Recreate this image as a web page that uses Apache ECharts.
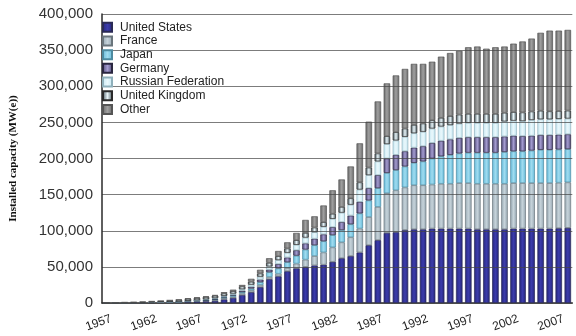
<!DOCTYPE html>
<html>
<head>
<meta charset="utf-8">
<script src="https://cdn.jsdelivr.net/npm/echarts@6/dist/echarts.min.js"></script>
<style>
  html, body { margin: 0; padding: 0; background: #fff; }
  #chart { width: 576px; height: 336px; }
</style>
</head>
<body>
<div id="chart"></div>
<script>
// Installed nuclear capacity by country, MW(e), 1957-2008
const years = [];
for (let y = 1957; y <= 2008; y++) years.push(String(y));

const unitedStates = [60, 60, 150, 300, 400, 600, 800, 900, 1000, 1500,
  2000, 2500, 3000, 5000, 7000, 11000, 15000, 22000, 33000, 37000,
  44000, 48000, 50000, 52000, 53000, 57000, 62000, 65000, 70000, 80000,
  87000, 97000, 98000, 101000, 102000, 102000, 103000, 103000, 103000, 103000,
  103000, 102000, 102000, 102000, 102000, 103000, 103000, 103000, 103000, 103000,
  103500, 104000];
const france = [0, 0, 40, 40, 40, 200, 200, 400, 500, 700,
  1000, 1200, 1500, 1700, 1700, 2300, 2700, 3000, 3000, 3500,
  4500, 6500, 10000, 13000, 17000, 20000, 22000, 26000, 33000, 39000,
  46000, 55000, 58000, 59000, 61000, 61000, 61000, 62000, 62000, 63000,
  63000, 63000, 63000, 63000, 63000, 63000, 63000, 63000, 63000, 63000,
  63000, 63000];
const japan = [0, 0, 0, 0, 0, 0, 10, 10, 10, 170,
  170, 170, 500, 1300, 1800, 1800, 2300, 3900, 6600, 7400,
  8000, 11000, 14000, 15000, 15500, 17000, 17000, 18000, 21000, 23000,
  26000, 28000, 28000, 29000, 31000, 33000, 36000, 38000, 40000, 41000,
  42000, 43000, 43000, 43000, 44000, 44000, 44000, 45000, 46000, 46000,
  46000, 46000];
const germany = [0, 0, 0, 0, 15, 15, 15, 15, 15, 300,
  300, 600, 900, 1000, 1000, 2000, 2300, 3500, 3500, 6000,
  6500, 7500, 8500, 9000, 9500, 11000, 11000, 12000, 16000, 17000,
  18000, 20000, 21000, 21000, 21000, 21000, 21500, 21500, 21500, 21500,
  21500, 21500, 21500, 21500, 21500, 21500, 21000, 20500, 20500, 20500,
  20500, 20500];
const russia = [0, 0, 5, 5, 5, 5, 100, 300, 300, 300,
  500, 700, 900, 1000, 1500, 2000, 3000, 4000, 4500, 5500,
  6500, 7500, 8000, 9000, 10500, 11500, 13000, 15000, 17000, 18000,
  19000, 20000, 20000, 20000, 20000, 20000, 20000, 19800, 19800, 19800,
  19800, 19800, 19800, 19800, 20800, 20800, 20800, 21800, 21800, 21800,
  21800, 21800];
const unitedKingdom = [200, 300, 500, 550, 800, 1100, 1500, 1900, 2500, 2800,
  3000, 3200, 3300, 3400, 3500, 4000, 4200, 4500, 5000, 5500,
  6000, 6500, 6500, 6500, 6500, 7000, 8000, 9000, 10000, 10500,
  11000, 11000, 11500, 11500, 11500, 11500, 11500, 12000, 12500, 12500,
  12500, 12500, 12500, 12500, 12000, 12000, 12000, 11800, 11800, 11000,
  11000, 11000];
const other = [40, 240, 305, 405, 540, 580, 375, 275, 475, 730,
  830, 830, 900, 1600, 2000, 1900, 4000, 5100, 6400, 7100,
  8500, 10000, 18000, 15500, 23000, 32500, 38000, 44000, 54000, 63500,
  72000, 73000, 78500, 82500, 84500, 82500, 81000, 84700, 87200, 88200,
  92200, 93200, 90200, 92200, 91700, 94700, 98200, 100900, 107900, 111700,
  111200, 111700];

const yTicks = [0, 50000, 100000, 150000, 200000, 250000, 300000, 350000, 400000];

// horizontal shading gives each bar a rounded, cylinder-like look
function shade(edge, mid) {
  return {
    type: 'linear', x: 0, y: 0, x2: 1, y2: 0,
    colorStops: [
      { offset: 0, color: edge },
      { offset: 0.5, color: mid },
      { offset: 1, color: edge }
    ]
  };
}

const layers = [
  { name: 'United States', data: unitedStates, fill: shade('#25257a', '#3c3cac'), border: '#2a2a55' },
  { name: 'France', data: france, fill: shade('#95a5b0', '#c6d3da'), border: '#6a757c' },
  { name: 'Japan', data: japan, fill: shade('#62b8d8', '#a0dcf0'), border: '#4d8aa0' },
  { name: 'Germany', data: germany, fill: shade('#4a4470', '#a49cd0'), border: '#2a2640' },
  { name: 'Russian Federation', data: russia, fill: shade('#c4e6f1', '#eaf8fc'), border: '#8fb0bb' },
  { name: 'United Kingdom', data: unitedKingdom, fill: shade('#3a4a52', '#e8f4f8'), border: '#2a2a2a' },
  { name: 'Other', data: other, fill: shade('#666666', '#a0a0a0'), border: '#555555' }
];

const chart = echarts.init(document.getElementById('chart'), null, { renderer: 'canvas' });

chart.setOption({
  animation: false,
  backgroundColor: '#ffffff',
  grid: { left: 97, right: 2, top: 14, bottom: 33, containLabel: false },
  legend: {
    orient: 'vertical',
    left: 102,
    top: 21,
    icon: 'rect',
    itemWidth: 9,
    itemHeight: 9,
    itemGap: 1.2,
    padding: 0,
    textStyle: {
      fontFamily: 'Liberation Sans, Arial, sans-serif',
      fontSize: 12,
      color: '#222',
      lineHeight: 12.5,
      padding: [0, 0, 0, 3]
    },
    data: layers.map(l => l.name)
  },
  xAxis: {
    type: 'category',
    data: years,
    axisLine: { lineStyle: { color: '#2a2a2a', width: 1.5 } },
    axisTick: { show: false },
    axisLabel: {
      interval: 4,
      rotate: 20,
      align: 'center',
      verticalAlign: 'middle',
      margin: 17,
      // trailing spacer nudges each year slightly left of its bar
      formatter: v => '{t|' + v + '}{s|}',
      rich: {
        t: { fontFamily: 'Liberation Sans, Arial, sans-serif', fontSize: 12, color: '#222' },
        s: { width: 17 }
      }
    }
  },
  yAxis: {
    type: 'value',
    z: 3,
    min: yTicks[0],
    max: yTicks[yTicks.length - 1],
    interval: yTicks[1] - yTicks[0],
    name: 'Installed capacity (MW(e))',
    nameLocation: 'middle',
    nameGap: 83,
    nameTextStyle: {
      fontFamily: 'Liberation Serif, Times New Roman, serif',
      fontWeight: 'bold',
      fontSize: 11,
      color: '#111'
    },
    axisLine: { show: true, lineStyle: { color: '#2a2a2a', width: 1.5 } },
    axisTick: { show: false },
    splitLine: { lineStyle: { color: '#444', width: 1, opacity: 0.7 } },
    axisLabel: {
      margin: 9,
      fontFamily: 'Liberation Sans, Arial, sans-serif',
      fontSize: 15,
      color: '#333',
      formatter: v => v.toLocaleString('en-US')
    }
  },
  series: layers.map(l => ({
    name: l.name,
    type: 'bar',
    stack: 'capacity',
    data: l.data,
    barCategoryGap: '28%',
    itemStyle: { color: l.fill, borderColor: l.border, borderWidth: 0.7 }
  }))
});
</script>
</body>
</html>
